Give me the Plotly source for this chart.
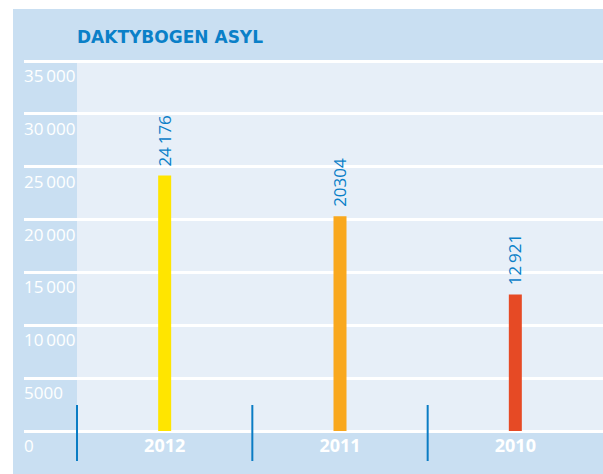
import plotly.graph_objects as go

# ---- data ----
categories = ["2012", "2011", "2010"]
values = [24176, 20304, 12921]
value_labels = ["24\u2009176", "20304", "12\u2009921"]
bar_colors = ["#ffe500", "#f9a81d", "#e64a25"]
y_tickvals = [0, 5000, 10000, 15000, 20000, 25000, 30000, 35000]
y_ticktext = ["0", "5000", "10\u2009000", "15\u2009000", "20\u2009000",
              "25\u2009000", "30\u2009000", "35\u2009000"]
title_text = "DAKTYBOGEN ASYL"

# ---- layout geometry (pixels) ----
W, H = 603, 474
L, R, T, B = 24, 0, 50, 0
plot_w = W - L - R
plot_h = H - T - B
zero_px = 431          # pixel row of the 0 line
top_px = 61            # pixel row of the 35000 line
ymax_val = 35000
units_per_px = ymax_val / (zero_px - top_px)
y_lo = -(H - B - zero_px) * units_per_px
y_hi = ymax_val + (top_px - T) * units_per_px

cat_left_px = 77
cat_w = (W - R - cat_left_px) / len(categories)
x_lo = -0.5 - (cat_left_px - L) / cat_w
x_hi = len(categories) - 0.5

def py(p):
    return (H - B - p) / plot_h

def px(p):
    return (p - L) / plot_w

BG_BLUE = "#c9dff2"
LIGHT = "#e7eff8"
TXT_BLUE = "#0a80c8"

fig = go.Figure()
fig.add_trace(go.Bar(
    x=categories, y=values, marker_color=bar_colors,
    width=13 / cat_w, marker_line_width=0, hoverinfo="skip",
))

shapes = [
    dict(type="rect", xref="paper", yref="paper", x0=px(13), x1=1,
         y0=py(H), y1=py(9), fillcolor=BG_BLUE, line_width=0, layer="below"),
    dict(type="rect", xref="x", yref="y", x0=-0.5, x1=x_hi,
         y0=0, y1=ymax_val, fillcolor=LIGHT, line_width=0, layer="below"),
]
for i in range(len(categories)):
    shapes.append(dict(type="line", xref="x", yref="y", x0=i - 0.5, x1=i - 0.5,
                       y0=-(461 - zero_px) * units_per_px,
                       y1=(zero_px - 405) * units_per_px,
                       line=dict(color="#0a7cc4", width=2), layer="above"))

annotations = [dict(
    text="<b>" + title_text + "</b>", xref="paper", yref="paper",
    x=px(75), y=py(37), xanchor="left", yanchor="middle", showarrow=False,
    font=dict(family="DejaVu Sans", size=17, color=TXT_BLUE),
)]
for i, (v, t) in enumerate(zip(values, value_labels)):
    annotations.append(dict(
        text=t, x=i, y=v, xref="x", yref="y", textangle=-90,
        xanchor="center", yanchor="bottom", yshift=7, showarrow=False,
        font=dict(family="Open Sans", size=17, color=TXT_BLUE),
    ))

fig.update_layout(
    width=W, height=H,
    margin=dict(l=L, r=R, t=T, b=B, pad=0),
    paper_bgcolor="white", plot_bgcolor="rgba(0,0,0,0)",
    showlegend=False, shapes=shapes, annotations=annotations,
    xaxis=dict(
        type="category", range=[x_lo, x_hi], showgrid=False, zeroline=False,
        showline=False, ticks="", anchor="free", position=py(zero_px),
        tickfont=dict(family="Open Sans", size=18, color="white", weight="bold"),
        ticklabelstandoff=2,
    ),
    yaxis=dict(
        range=[y_lo, y_hi], tickvals=y_tickvals, ticktext=y_ticktext,
        showgrid=True, gridcolor="white", gridwidth=3, zeroline=False,
        showline=False, ticks="", ticklabelposition="inside",
        ticklabelshift=15, ticklabelstandoff=-3,
        tickfont=dict(family="Open Sans", size=17, color="white"),
    ),
)

fig.write_html("out.html", config={"displayModeBar": False},
               post_script="document.body.style.margin='0';")
